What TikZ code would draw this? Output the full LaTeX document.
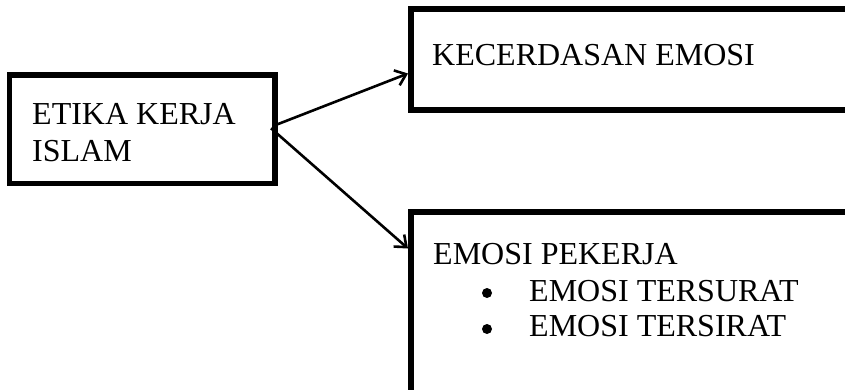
\documentclass[tikz,border=0pt]{standalone}
\usepackage{fontspec}
\setmainfont{Liberation Serif}
\usetikzlibrary{arrows.meta}
\begin{document}
\begin{tikzpicture}[x=1pt,y=-1pt,
  frame/.style={draw, line width=5.5pt, rectangle, outer sep=0pt, anchor=north west},
  word/.style={inner sep=0pt, anchor=base west, font=\fontsize{32}{37}\selectfont},
  dot/.style={circle, fill, inner sep=0pt, minimum size=10pt},
  link/.style={line width=2.6pt, -{Straight Barb[length=10pt,width=16pt]}}]
\path[use as bounding box] (0,0) rectangle (845,390);
\clip (0,0) rectangle (845,390);
\fill[white] (0,0) rectangle (845,390);

% boxes
\node[frame, minimum width=265.5pt, minimum height=108.5pt] (etika) at (9.5,75) {};
\node[frame, minimum width=470pt, minimum height=101pt] (kecerdasan) at (411,9) {};
\node[frame, minimum width=470pt, minimum height=185pt] (pekerja) at (411,212) {};

% texts
\node[word] (t1) at (32,125) {ETIKA KERJA};
\node[word] (t2) at (32,162) {ISLAM};
\node[word] (t3) at (432,66) {KECERDASAN EMOSI};
\node[word] (t4) at (433,264) {EMOSI PEKERJA};
\node[dot] (b1) at (487,293) {};
\node[word] (t5) at (529,301) {EMOSI TERSURAT};
\node[dot] (b2) at (487,329) {};
\node[word] (t6) at (529,336) {EMOSI TERSIRAT};

% connectors
\coordinate (s1) at ([yshift=4pt]etika.east);
\coordinate (s2) at ([xshift=-4pt,yshift=1pt]etika.east);
\draw[link] (s1) -- ([xshift=-3pt,yshift=-14pt]kecerdasan.west);
\draw[link] (s2) -- ([xshift=-3pt,yshift=56pt]pekerja.west);
\end{tikzpicture}
\end{document}
